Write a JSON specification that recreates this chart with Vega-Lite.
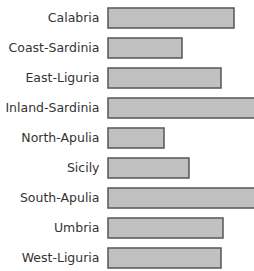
{
  "$schema": "https://vega.github.io/schema/vega-lite/v6.json",
  "autosize": "none",
  "width": 146,
  "height": 270,
  "padding": {"left": 108, "top": 3, "right": 0, "bottom": 0},
  "background": "white",
  "config": {"view": {"stroke": null}, "font": "DejaVu Sans"},
  "data": {"values": [
    {"region": "Calabria", "value": 126},
    {"region": "Coast-Sardinia", "value": 74},
    {"region": "East-Liguria", "value": 113},
    {"region": "Inland-Sardinia", "value": 160},
    {"region": "North-Apulia", "value": 56},
    {"region": "Sicily", "value": 81},
    {"region": "South-Apulia", "value": 160},
    {"region": "Umbria", "value": 115},
    {"region": "West-Liguria", "value": 113}
  ]},
  "mark": {"type": "bar", "fill": "#c0c0c0", "stroke": "#555555", "strokeWidth": 1.5, "clip": false},
  "encoding": {
    "y": {"field": "region", "type": "nominal", "sort": null,
      "scale": {"paddingInner": 0.333, "paddingOuter": 0.167},
      "axis": {"title": null, "domain": false, "ticks": false, "labelPadding": 9, "labelFontSize": 12.5, "labelColor": "#333333", "labelFont": "DejaVu Sans"}},
    "x": {"field": "value", "type": "quantitative",
      "scale": {"domain": [0, 146], "nice": false},
      "axis": null}
  }
}
